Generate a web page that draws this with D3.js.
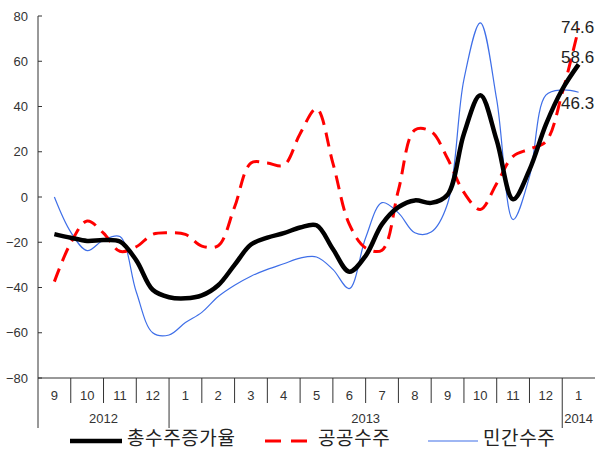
<!DOCTYPE html>
<html>
<head>
<meta charset="utf-8">
<script src="https://cdn.jsdelivr.net/npm/d3@7"></script>
<style>
  body { margin: 0; background: #fff; }
  svg { display: block; font-family: "Liberation Sans", Arial, sans-serif; }
  .tick-label { font-size: 13px; fill: #333; }
  .legend-text { font-size: 19px; fill: #222; font-family: "Noto Sans CJK KR", sans-serif; letter-spacing: 0.6px; }
  .end-label { font-size: 17px; fill: #222; }
</style>
</head>
<body>
<script>
// month labels along the x axis (Sep 2012 .. Jan 2014)
const months = ["9","10","11","12","1","2","3","4","5","6","7","8","9","10","11","12","1"];
// year labels and the month index where each year starts / ends
const yearLabels = ["2012", "2013", "2014"];
const yearStart = [0, 4, 16];
const yearEnd = [4, 16, 17];
const yTicks = [80, 60, 40, 20, 0, -20, -40, -60, -80];

// values are read every half month, first one at the middle of Sep 2012
const total = [-16.4, -18, -19.4, -19, -19.7, -28, -41, -44.3, -44.8, -43.5, -39, -30, -21, -18, -16, -13.5,
               -12.5, -23, -33, -26, -12, -4.5, -1.5, -2.6, 1, 28, 45, 25, -1, 12, 32, 47.5, 58.6];
const publicOrd = [-37.4, -20.3, -10.6, -16, -24, -22, -16.5, -15.8, -16.5, -21.7, -21.5, -4.4, 15, 15, 14, 28,
                   39, 15, -12, -22.5, -23.5, 3, 29.6, 28.9, 17, 2, -5.5, 6, 18, 21.2, 24.5, 46, 74.6];
const privateOrd = [0, -15.5, -23.7, -19, -17.5, -42, -60, -61, -55.5, -51, -44, -39, -35, -32, -29.5, -27,
                    -26.5, -32, -40.5, -18, -2.5, -7, -15.8, -15.5, -3, 52, 77, 43, -10, 9, 45, 47.3, 46.3];
const endLabels = ["74.6", "58.6", "46.3"];

const width = 595, height = 450;
const svg = d3.select("body").append("svg")
    .attr("width", width)
    .attr("height", height);

const x = d3.scaleLinear().domain([0, 17]).range([38, 595]);
const y = d3.scaleLinear().domain([-80, 80]).range([378, 16]);

// y axis with small ticks pointing into the plot
svg.append("line")
   .attr("x1", x(0)).attr("x2", x(0))
   .attr("y1", y(80)).attr("y2", y(-80))
   .attr("stroke", "#333").attr("stroke-width", 1);
svg.selectAll(".ytick")
   .data(yTicks).enter()
   .append("line")
   .attr("x1", x(0)).attr("x2", x(0) + 4)
   .attr("y1", d => y(d)).attr("y2", d => y(d))
   .attr("stroke", "#333");
svg.selectAll(".ylab")
   .data(yTicks).enter()
   .append("text")
   .attr("class", "tick-label")
   .attr("x", 28)
   .attr("y", d => y(d) + 4.5)
   .attr("text-anchor", "end")
   .text(d => d < 0 ? "\u2212" + Math.abs(d) : d);

// x axis line at the bottom
svg.append("line")
   .attr("x1", x(0)).attr("x2", width)
   .attr("y1", y(-80)).attr("y2", y(-80))
   .attr("stroke", "#333");

// month separators, longer ones where a year starts
const sepIdx = d3.range(0, 17);
svg.selectAll(".msep")
   .data(sepIdx).enter()
   .append("line")
   .attr("x1", d => x(d)).attr("x2", d => x(d))
   .attr("y1", y(-80))
   .attr("y2", d => yearStart.includes(d) ? 428 : 403)
   .attr("stroke", "#333");
svg.selectAll(".mlab")
   .data(months).enter()
   .append("text")
   .attr("class", "tick-label")
   .attr("x", (d, i) => x(i + 0.5))
   .attr("y", 400)
   .attr("text-anchor", "middle")
   .text(d => d);
svg.selectAll(".ylab2")
   .data(yearLabels).enter()
   .append("text")
   .attr("class", "tick-label")
   .attr("x", (d, i) => (x(yearStart[i]) + x(yearEnd[i])) / 2)
   .attr("y", 423)
   .attr("text-anchor", "middle")
   .text(d => d);

// lines
const line = d3.line()
    .x((d, i) => x(0.5 + i * 0.5))
    .y(d => y(d))
    .curve(d3.curveCatmullRom);

svg.append("path")
   .attr("d", line(privateOrd))
   .attr("fill", "none")
   .attr("stroke", "#3f6fe8")
   .attr("stroke-width", 1.2);
svg.append("path")
   .attr("d", line(publicOrd))
   .attr("fill", "none")
   .attr("stroke", "#ff0000")
   .attr("stroke-width", 3)
   .attr("stroke-dasharray", "14,8");
svg.append("path")
   .attr("d", line(total))
   .attr("fill", "none")
   .attr("stroke", "#000")
   .attr("stroke-width", 4.5);

// end value labels
const endY = [publicOrd[publicOrd.length - 1], total[total.length - 1], privateOrd[privateOrd.length - 1]];
const endOffset = [5, -1.5, 17];
svg.selectAll(".endlab")
   .data(endLabels).enter()
   .append("text")
   .attr("class", "end-label")
   .attr("x", 561)
   .attr("y", (d, i) => y(endY[i]) + endOffset[i])
   .text(d => d);

// legend
const legItems = [
  {name: "총수주증가율", color: "#000", w: 4.5, dash: null, x1: 70, x2: 122},
  {name: "공공수주", color: "#ff0000", w: 3, dash: "16,10", x1: 265, x2: 313},
  {name: "민간수주", color: "#3f6fe8", w: 1.2, dash: null, x1: 428, x2: 478}
];
const leg = svg.append("g");
legItems.forEach(function(it){
  leg.append("line")
     .attr("x1", it.x1).attr("x2", it.x2)
     .attr("y1", 441).attr("y2", 441)
     .attr("stroke", it.color)
     .attr("stroke-width", it.w)
     .attr("stroke-dasharray", it.dash);
  leg.append("text")
     .attr("class", "legend-text")
     .attr("x", it.x2 + 5)
     .attr("y", 445)
     .text(it.name);
});
</script>
</body>
</html>
